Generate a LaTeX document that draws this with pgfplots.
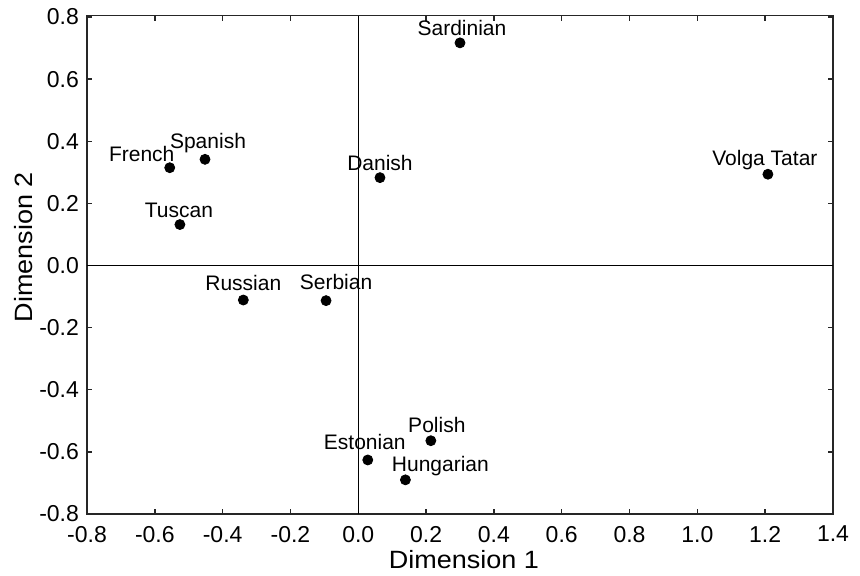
\documentclass[border=0pt]{standalone}
\usepackage{fontspec}
\setmainfont{Liberation Sans}
\newfontfamily\labfont[FakeStretch=1.08]{Liberation Sans}
\usepackage{pgfplots}
\usepackage{pgfplotstable}
\pgfplotsset{compat=1.18}

\pgfplotstableread[col sep=comma]{
x,y,label,dx,dy
-0.556,0.315,French,-14,3.3
-0.452,0.342,Spanish,1.5,5.35
-0.526,0.132,Tuscan,-0.5,3.7
-0.339,-0.111,Russian,0,5
-0.095,-0.113,Serbian,5,5.35
0.028,-0.626,Estonian,-1.5,5.35
0.214,-0.564,Polish,3,4.35
0.139,-0.690,Hungarian,17.5,4
0.300,0.717,Sardinian,1,3.5
0.064,0.283,Danish,0,3.65
1.208,0.294,Volga Tatar,-1.5,4.15
}\datatable

\begin{document}
\begin{tikzpicture}
\useasboundingbox (-43.5pt,-30.5pt) rectangle (386.5pt,257pt);
\begin{axis}[
  scale only axis,
  width=373pt, height=249.25pt,
  xmin=-0.8, xmax=1.4, ymin=-0.8, ymax=0.805,
  axis line style={line width=0.9pt, black!85},
  tick align=inside,
  major tick length=2.5pt,
  tick style={line width=0.7pt, black!85},
  xtick={-0.8,-0.6,-0.4,-0.2,0,0.2,0.4,0.6,0.8,1.0,1.2,1.4},
  xticklabels={-0.8,-0.6,-0.4,-0.2,0.0,0.2,0.4,0.6,0.8,1.0,1.2,1.4},
  ytick={-0.8,-0.6,-0.4,-0.2,0,0.2,0.4,0.6,0.8},
  yticklabels={-0.8,-0.6,-0.4,-0.2,0.0,0.2,0.4,0.6,0.8},
  ticklabel style={font=\fontsize{11.5}{13}\selectfont},
  xticklabel style={yshift=-2.5pt},
  yticklabel style={xshift=-0.5pt},
  xlabel={Dimension 1},
  ylabel={Dimension 2},
  label style={font=\labfont\fontsize{12.5}{14}\selectfont},
  xlabel style={yshift=3pt, xshift=2pt},
  ylabel style={at={(ticklabel cs:0.535)}, yshift=-3.5pt},
  clip=false,
]
\draw[line width=0.6pt] (axis cs:0,-0.8) -- (axis cs:0,0.805);
\draw[line width=0.6pt] (axis cs:-0.8,0) -- (axis cs:1.4,0);
\addplot[
  only marks, mark=*, mark size=2.5pt, black,
  point meta=explicit symbolic,
  visualization depends on={\thisrow{dx} \as \labdx},
  visualization depends on={\thisrow{dy} \as \labdy},
  nodes near coords,
  nodes near coords style={anchor=base, xshift=\labdx pt, yshift=\labdy pt,
    font=\fontsize{10.5}{12}\selectfont, inner sep=0pt, black},
] table[x=x, y=y, meta=label] {\datatable};
\end{axis}
\end{tikzpicture}
\end{document}
